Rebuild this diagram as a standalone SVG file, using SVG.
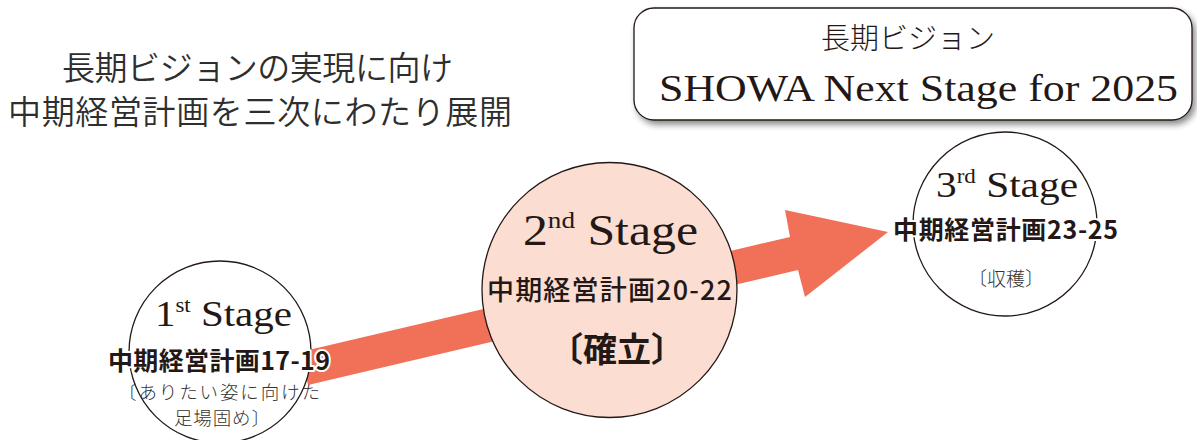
<svg xmlns="http://www.w3.org/2000/svg" width="1197" height="440" viewBox="0 0 1197 440">
  <defs>
    <filter id="shadow" x="-5%" y="-20%" width="115%" height="150%">
      <feDropShadow dx="3" dy="4" stdDeviation="3" flood-color="#000" flood-opacity="0.45"/>
    </filter>
  </defs>
  <style>
    .jp { font-family: "Noto Sans CJK JP", "Noto Sans", sans-serif; }
    .serif { font-family: "Liberation Serif", "DejaVu Serif", serif; fill: #231815; }
    .title { font-size: 33px; font-weight: 350; fill: #2e2e2e; }
    .ring { stroke: #231815; stroke-width: 1.3; }
    .lbl { fill: #231815; }
    .sub { font-weight: 300; fill: #333333; }
    .halo { stroke: #ffffff; stroke-width: 4; stroke-linejoin: round; paint-order: stroke; }
  </style>

  <!-- Heading -->
  <g id="heading" class="jp title">
    <text x="62" y="80" textLength="391">長期ビジョンの実現に向け</text>
    <text x="8" y="124" textLength="504">中期経営計画を三次にわたり展開</text>
  </g>

  <!-- Vision box -->
  <g id="vision">
    <rect x="634" y="8" width="558" height="112" rx="20" ry="20" fill="#ffffff" class="ring" filter="url(#shadow)"/>
    <text x="908" y="49" class="jp" font-size="29" font-weight="300" fill="#231815" text-anchor="middle">長期ビジョン</text>
    <text x="659" y="101" class="serif" font-size="38" textLength="519" lengthAdjust="spacingAndGlyphs">SHOWA Next Stage for 2025</text>
  </g>

  <!-- Connector -->
  <g id="connectors">
    <polygon points="300,352 790,237 785,210 888,232 805,297 798,270 308,385" fill="#F07058"/>
  </g>

  <!-- Stage 1 -->
  <g id="stage1">
    <circle cx="220" cy="352" r="91" fill="#ffffff" class="ring"/>
    <text x="155" y="326" class="serif" font-size="36" textLength="137" lengthAdjust="spacingAndGlyphs">1<tspan font-size="20" dy="-14">st</tspan><tspan font-size="36" dy="14"> Stage</tspan></text>
    <text x="108" y="370" class="jp lbl halo" font-size="25" font-weight="700" textLength="222">中期経営計画17-19</text>
    <text x="118" y="399" class="jp sub" font-size="18.5" textLength="202">〔ありたい姿に向けた</text>
    <text x="174" y="425" class="jp sub" font-size="18.5" textLength="96">足場固め〕</text>
  </g>

  <!-- Stage 2 -->
  <g id="stage2">
    <circle cx="609.5" cy="290" r="127.5" fill="#FCDDD1" class="ring"/>
    <text x="523" y="245" class="serif" font-size="44" textLength="175" lengthAdjust="spacingAndGlyphs">2<tspan font-size="24" dy="-17">nd</tspan><tspan font-size="44" dy="17"> Stage</tspan></text>
    <text x="487" y="300" class="jp lbl" font-size="27" font-weight="500" textLength="245">中期経営計画20-22</text>
    <text x="549" y="362" class="jp lbl" font-size="34" font-weight="700">〔確立〕</text>
  </g>

  <!-- Stage 3 -->
  <g id="stage3">
    <circle cx="1005" cy="224" r="92" fill="none" class="ring"/>
    <text x="936" y="197" class="serif" font-size="36" textLength="142" lengthAdjust="spacingAndGlyphs">3<tspan font-size="20" dy="-14">rd</tspan><tspan font-size="36" dy="14"> Stage</tspan></text>
    <text x="893" y="239" class="jp lbl halo" font-size="25" font-weight="700" textLength="225">中期経営計画23-25</text>
    <text x="968" y="286" class="jp sub" font-size="19">〔収穫〕</text>
  </g>
</svg>
